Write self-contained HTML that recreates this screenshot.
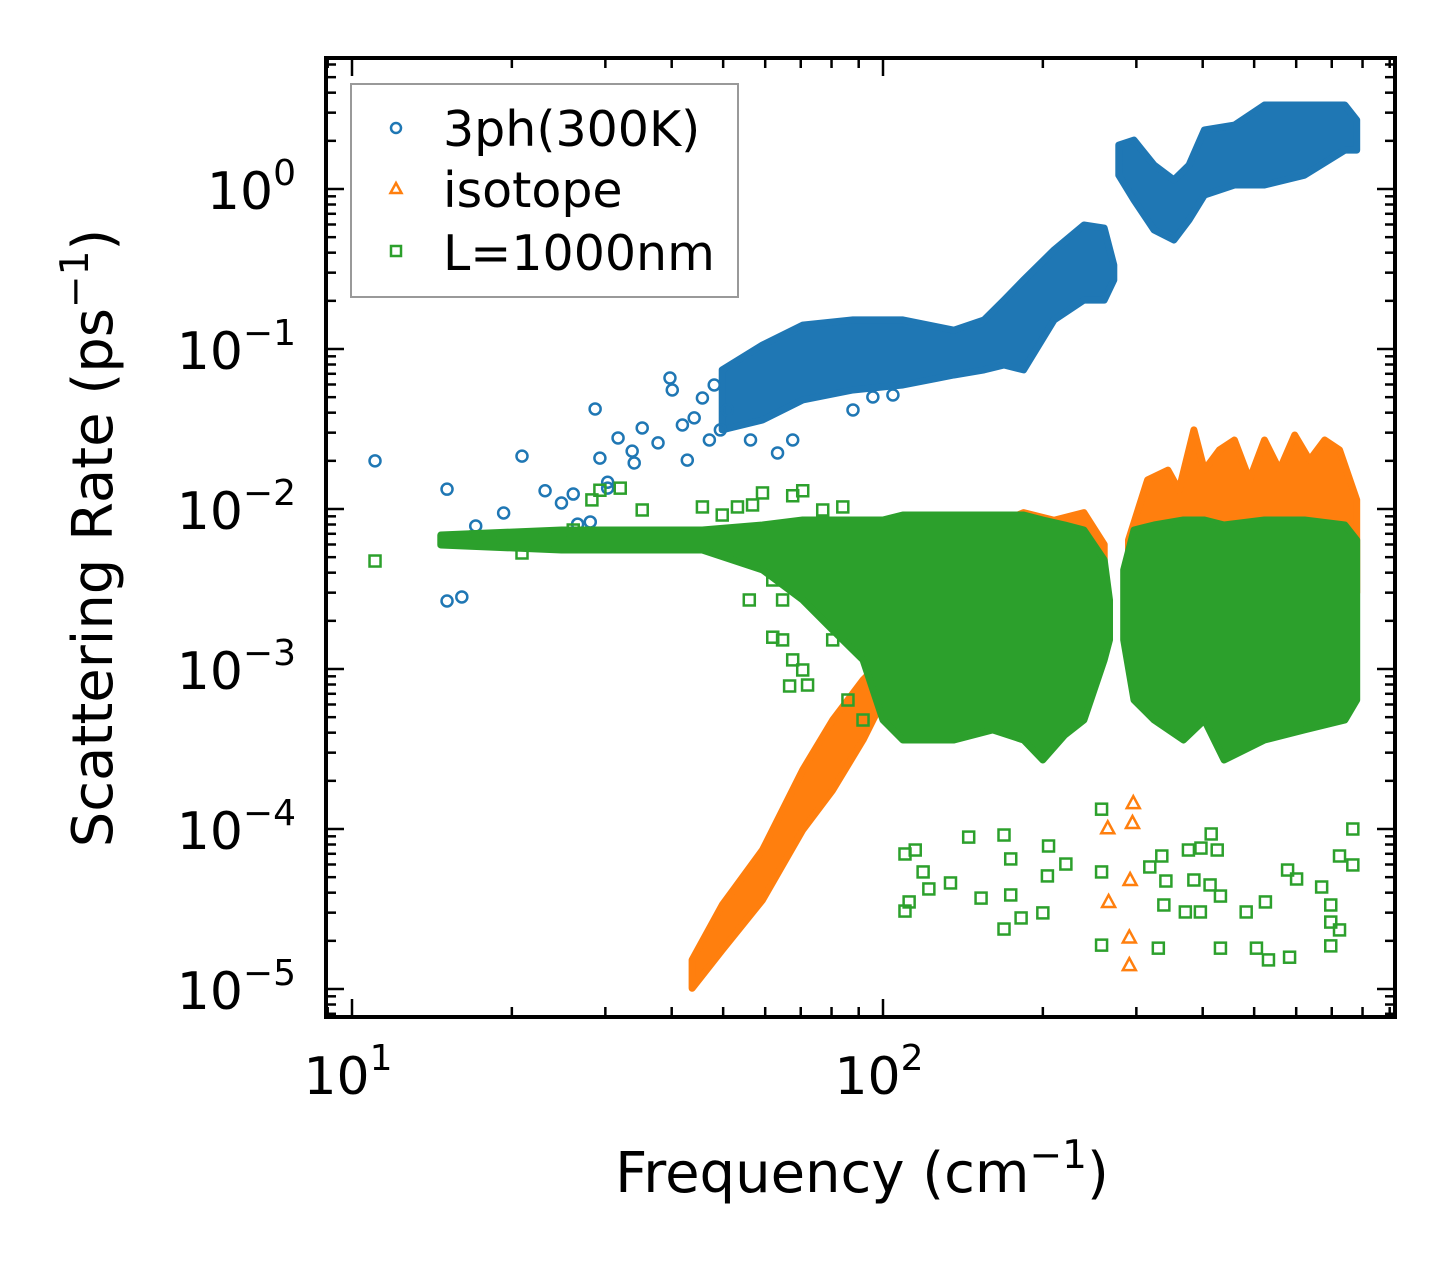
<!DOCTYPE html>
<html><head><meta charset="utf-8"><style>
html,body{margin:0;padding:0;background:#fff;}
svg{display:block;font-family:"DejaVu Sans","Liberation Sans",sans-serif;}
</style></head><body>
<svg id="chart" width="1455" height="1265" viewBox="0 0 1455 1265" xmlns="http://www.w3.org/2000/svg">
<rect x="0" y="0" width="1455" height="1265" fill="#fff"/>
<g id="plot"></g>
<g id="axes"></g>
<text x="862" y="1192" font-size="56" text-anchor="middle">Frequency (cm<tspan dy="-24" font-size="39">−1</tspan><tspan dy="24">)</tspan></text>
<text transform="translate(112,538) rotate(-90)" font-size="56" text-anchor="middle">Scattering Rate (ps<tspan dy="-24" font-size="39">−1</tspan><tspan dy="24">)</tspan></text>
<g>
<rect x="351" y="84" width="387" height="213" fill="#fff" fill-opacity="0.8" stroke="#999" stroke-width="2"/>
<circle cx="396" cy="128" r="5" fill="none" stroke="#1f77b4" stroke-width="2.5"/>
<text x="443" y="146" font-size="49">3ph(300K)</text>
<polygon points="396,183 390.5,193 401.5,193" fill="none" stroke="#ff7f0e" stroke-width="2.5"/>
<text x="443" y="207" font-size="49">isotope</text>
<rect x="391" y="246" width="10" height="10" fill="none" stroke="#2ca02c" stroke-width="2.5"/>
<text x="443" y="270" font-size="49">L=1000nm</text>
</g>
</svg>
<script>
// ---- data ----
const blueBand1Freq = [49.8,59.3,70.6,87.8,109,136,155,169,184,210,239,261,272];
const blueBand1Hi = [0.074,0.106,0.141,0.152,0.152,0.131,0.152,0.202,0.270,0.416,0.596,0.570,0.335];
const blueBand1Lo = [0.0312,0.036,0.048,0.0554,0.0596,0.0688,0.074,0.0794,0.074,0.152,0.202,0.202,0.270];
const blueBand2Freq = [278,297,324,353,377,403,459,523,622,741,780];
const blueBand2Hi = [1.88,2.02,1.41,1.14,1.41,2.34,2.51,3.35,3.35,3.35,2.70];
const blueBand2Lo = [1.22,0.854,0.554,0.48,0.64,0.917,1.06,1.06,1.22,1.75,1.75];
const bluePtsFreq = [11.05,15.1,15.1,16.1,17.1,19.3,20.9,23.1,24.8,26.1,26.6,28.1,28.7,29.3,30.3,30.3,31.7,33.7,34.0,35.2,37.7,39.7,40.1,41.9,42.8,44.1,45.7,47.1,48.1,49.4,50.9,56.3,63.3,67.6,87.8,95.7,104.4];
const bluePtsRate = [0.0200,0.0133,0.00266,0.00282,0.00783,0.00944,0.0214,0.0130,0.0109,0.0124,0.00805,0.0083,0.0422,0.0208,0.0135,0.0147,0.0278,0.0230,0.0194,0.0321,0.0259,0.0659,0.0554,0.0335,0.0202,0.0371,0.0494,0.0270,0.0596,0.0312,0.0416,0.0270,0.0224,0.027,0.0416,0.0501,0.0516];

const orangeBand1Freq = [43.7,49.8,59.3,70.6,80.4,91.7,100,109];
const orangeBand1Hi = [1.52e-5,3.35e-5,7.39e-5,2.34e-4,4.8e-4,8.53e-4,1.14e-3,1.52e-3];
const orangeBand1Lo = [1.01e-5,1.75e-5,3.6e-5,9.86e-5,1.75e-4,3.6e-4,6.4e-4,8.53e-4];
const orangeBand2Freq = [290,315,344,361,385,403,430,459,490,523,558,596,636,679,724,780];
const orangeBand2Hi = [6.4e-3,0.0152,0.0175,0.0131,0.0312,0.0175,0.0234,0.027,0.0152,0.027,0.0175,0.029,0.0202,0.027,0.0234,0.0114];
const orangeBand2Lo = [3e-3,3e-3,3e-3,3e-3,3e-3,3e-3,3e-3,3e-3,3e-3,3e-3,3e-3,3e-3,3e-3,3e-3,3e-3,3e-3];
const orangeBand3Freq = [155,184,210,239,261];
const orangeBand3Hi = [0.0075,0.0095,0.0085,0.0095,0.006];
const orangeBand3Lo = [0.003,0.003,0.003,0.003,0.003];
const orangePtsFreq = [265,266,292,291,291,295,296];
const orangePtsRate = [1.01e-4,3.5e-5,4.8e-5,2.1e-5,1.41e-5,1.09e-4,1.45e-4];

const greenBand1Freq = [14.7,24.8,45.7,59.3,70.6,80.4,91.7,100,109,136,161,184,200,220,239,261,267];
const greenBand1Hi = [6.88e-3,7.39e-3,7.39e-3,7.94e-3,8.53e-3,8.53e-3,8.53e-3,8.53e-3,9.17e-3,9.17e-3,9.17e-3,9.17e-3,8.53e-3,7.94e-3,7.39e-3,4.8e-3,2.7e-3];
const greenBand1Lo = [5.96e-3,5.54e-3,5.54e-3,4.16e-3,2.7e-3,1.75e-3,1.14e-3,4.8e-4,3.6e-4,3.6e-4,4.16e-4,3.6e-4,2.7e-4,3.87e-4,4.8e-4,1.14e-3,1.52e-3];
const greenBand2Freq = [284,297,324,368,403,439,523,622,741,780];
const greenBand2Hi = [4.16e-3,7.39e-3,7.94e-3,8.53e-3,8.53e-3,7.94e-3,8.53e-3,8.53e-3,7.94e-3,6.4e-3];
const greenBand2Lo = [1.52e-3,6.4e-4,4.8e-4,3.6e-4,4.8e-4,2.7e-4,3.6e-4,4.16e-4,4.8e-4,6.4e-4];
const greenPtsFreq = [11.05,15.1,17.1,19.3,20.9,23.1,26.1,28.3,29.3,32.0,35.2,45.7,49.8,53.2,56.8,59.3,67.6,70.6,77.0,84.0,56.0,62.0,64.7,67.6,70.6,66.7,72.1,80.4,85.9,91.7,62.0,64.7,
 110,115,119,122,134,112,110,145,153,169,174,174,169,182,200,204,205,221,258,258,258,330,338,341,385,413,432,397,376,426,371,396,432,483,505,532,525,578,583,601,670,697,697,724,697,767,724,767,415,318,335];
const greenPtsRate = [4.73e-3,6.4e-3,6.68e-3,6.13e-3,5.31e-3,6.4e-3,7.39e-3,0.0114,0.0131,0.0135,9.86e-3,0.0103,9.17e-3,0.0103,0.0106,0.0126,0.0121,0.0130,9.86e-3,0.0103,2.7e-3,1.58e-3,1.52e-3,1.14e-3,9.86e-4,7.83e-4,7.94e-4,1.52e-3,6.4e-4,4.8e-4,3.6e-3,2.7e-3,
 6.98e-5,7.39e-5,5.39e-5,4.22e-5,4.6e-5,3.5e-5,3.07e-5,8.9e-5,3.7e-5,9.17e-5,6.5e-5,3.87e-5,2.37e-5,2.78e-5,2.99e-5,5.09e-5,7.83e-5,6.04e-5,1.33e-4,5.39e-5,1.88e-5,1.8e-5,3.35e-5,4.73e-5,4.8e-5,4.47e-5,3.81e-5,7.6e-5,7.39e-5,7.39e-5,3.03e-5,3.03e-5,1.8e-5,3.03e-5,1.8e-5,1.52e-5,3.5e-5,5.54e-5,1.58e-5,4.87e-5,4.34e-5,3.35e-5,2.62e-5,2.34e-5,1.86e-5,5.96e-5,6.78e-5,1e-4,9.31e-5,5.79e-5,6.78e-5];

const xTickValues = [10,100];
const xTickLabels = ["1","2"];
const yTickValues = [1,0.1,0.01,0.001,1e-4,1e-5];
const yTickLabels = ["0","−1","−2","−3","−4","−5"];

// ---- scales ----
const X0 = 326, X1 = 1395, Y0 = 58, Y1 = 1017;
function xs(f){ return 352 + (Math.log10(f) - 1) * 531; }
function ys(r){ return 189 - Math.log10(r) * 160; }
const NS = "http://www.w3.org/2000/svg";
const plot = document.getElementById('plot');
const axes = document.getElementById('axes');
function mk(tag, attrs, parent){
  const e = document.createElementNS(NS, tag);
  for (const k in attrs) e.setAttribute(k, attrs[k]);
  parent.appendChild(e);
  return e;
}
const C = {blue:'#1f77b4', orange:'#ff7f0e', green:'#2ca02c'};

function band(freq, hi, lo, color, name){
  const pts = [];
  for (let i=0;i<freq.length;i++) pts.push(xs(freq[i]).toFixed(1)+','+ys(hi[i]).toFixed(1));
  for (let i=freq.length-1;i>=0;i--) pts.push(xs(freq[i]).toFixed(1)+','+ys(lo[i]).toFixed(1));
  const p = mk('polygon', {points: pts.join(' '), fill: color, stroke: color, 'stroke-width': 7, 'stroke-linejoin':'round'}, plot);
  
  
}
function circles(freq, rate, name){
  for (let i=0;i<freq.length;i++){
    const c = mk('circle', {cx: xs(freq[i]), cy: ys(rate[i]), r: 5.5, fill:'none', stroke:C.blue, 'stroke-width':2.5}, plot);
    
    
  }
}
function squares(freq, rate, name){
  for (let i=0;i<freq.length;i++){
    const s = mk('rect', {x: xs(freq[i])-5.5, y: ys(rate[i])-5.5, width: 11, height: 11, fill:'none', stroke:C.green, 'stroke-width':2.5}, plot);
    
    
  }
}
function triangles(freq, rate, name){
  for (let i=0;i<freq.length;i++){
    const x = xs(freq[i]), y = ys(rate[i]);
    const t = mk('polygon', {points: x+','+(y-7)+' '+(x-6.5)+','+(y+5)+' '+(x+6.5)+','+(y+5), fill:'none', stroke:C.orange, 'stroke-width':2.5}, plot);
    
    
  }
}

band(blueBand1Freq, blueBand1Hi, blueBand1Lo, C.blue, '3ph-band-low');
band(blueBand2Freq, blueBand2Hi, blueBand2Lo, C.blue, '3ph-band-high');
circles(bluePtsFreq, bluePtsRate, '3ph-point');
band(orangeBand1Freq, orangeBand1Hi, orangeBand1Lo, C.orange, 'isotope-band-rise');
band(orangeBand3Freq, orangeBand3Hi, orangeBand3Lo, C.orange, 'isotope-band-mid');
band(orangeBand2Freq, orangeBand2Hi, orangeBand2Lo, C.orange, 'isotope-band-high');
triangles(orangePtsFreq, orangePtsRate, 'isotope-point');
band(greenBand1Freq, greenBand1Hi, greenBand1Lo, C.green, 'boundary-band-low');
band(greenBand2Freq, greenBand2Hi, greenBand2Lo, C.green, 'boundary-band-high');
squares(greenPtsFreq, greenPtsRate, 'boundary-point');

// ---- axes ----
function line(x1,y1,x2,y2,w,name){
  const l = mk('line',{x1:x1,y1:y1,x2:x2,y2:y2,stroke:'#000','stroke-width':w}, axes);
  
  
}
for (let d=0; d<=2; d++){
  for (let m=1; m<=9; m++){
    const v = m*Math.pow(10,d);
    const x = xs(v);
    if (x < X0 || x > X1) continue;
    const len = m===1 ? 18 : 10;
    line(x, Y1, x, Y1-len, 2.5, 'x-tick');
    line(x, Y0, x, Y0+len, 2.5, 'x-tick-top');
  }
}
for (let d=-6; d<=0; d++){
  for (let m=1; m<=9; m++){
    const v = m*Math.pow(10,d);
    const y = ys(v);
    if (y < Y0 || y > Y1) continue;
    const len = m===1 ? 18 : 10;
    line(X0, y, X0+len, y, 2.5, 'y-tick');
    line(X1, y, X1-len, y, 2.5, 'y-tick-right');
  }
}
const frame = mk('rect',{x:X0,y:Y0,width:X1-X0,height:Y1-Y0,fill:'none',stroke:'#000','stroke-width':4}, axes);



for (let i=0;i<xTickValues.length;i++){
  const t = mk('text',{x: xs(xTickValues[i])-4, y:1094, 'font-size':52, 'text-anchor':'middle'}, axes);
  
  
  t.appendChild(document.createTextNode('10'));
  const s = mk('tspan',{dy:-24,'font-size':36}, t);
  s.textContent = xTickLabels[i];
}
for (let i=0;i<yTickValues.length;i++){
  const t = mk('text',{x: 296, y: ys(yTickValues[i])+20, 'font-size':52, 'text-anchor':'end'}, axes);
  
  
  t.appendChild(document.createTextNode('10'));
  const s = mk('tspan',{dy:-24,'font-size':36}, t);
  s.textContent = yTickLabels[i];
}
</script>
</body></html>
